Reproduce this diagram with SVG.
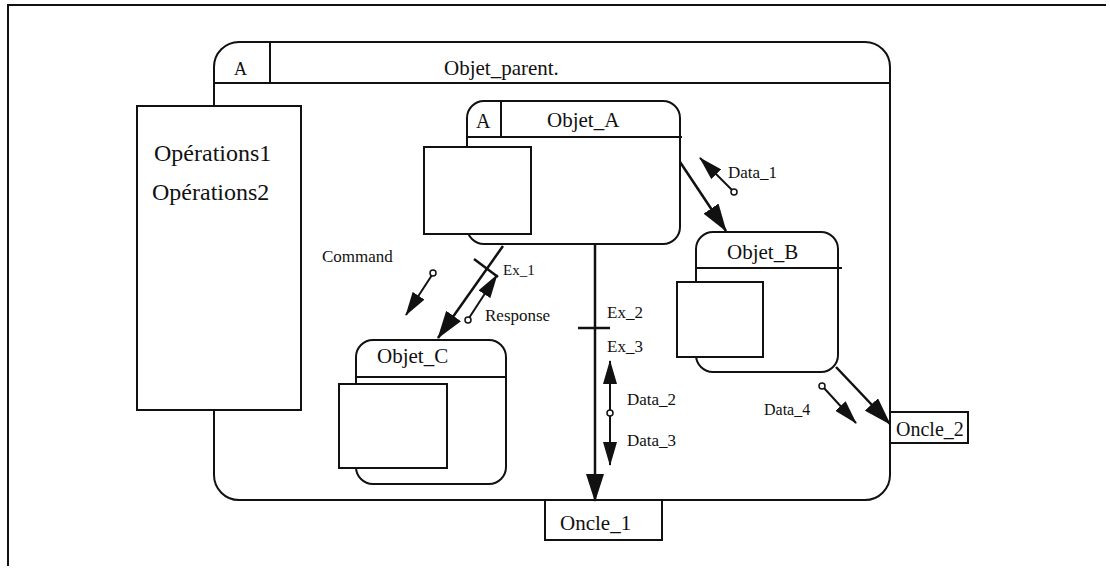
<svg xmlns="http://www.w3.org/2000/svg" width="1110" height="572" viewBox="0 0 1110 572">
<style>
.ln{stroke:#111;stroke-width:2;fill:none}
.box{stroke:#111;stroke-width:2;fill:#fff}
text{font-family:'Liberation Serif','DejaVu Serif','Times New Roman',serif;fill:#111}
.s{font-size:17px}
.t{font-size:21px}
.l{font-size:24px}
.con{stroke:#111;stroke-width:2.5;fill:none}
.dat{stroke:#111;stroke-width:2;fill:none}
.dot{stroke:#111;stroke-width:1.5;fill:#fff}
</style>
<defs>
<marker id="ah" viewBox="0 0 28 18" refX="27" refY="9" markerWidth="28" markerHeight="18" markerUnits="userSpaceOnUse" orient="auto">
<path d="M0,0 L28,9 L0,18 z" fill="#111"/>
</marker>
<marker id="ahs" viewBox="0 0 24 14" refX="23" refY="7" markerWidth="24" markerHeight="14" markerUnits="userSpaceOnUse" orient="auto">
<path d="M0,0 L24,7 L0,14 z" fill="#111"/>
</marker>
</defs>
<rect width="1110" height="572" fill="#fff"/>
<g id="frame">
<path d="M8,566 L8,5 L1106,5" class="ln" stroke-width="2.5"/>
</g>
<g id="objet_parent">
<rect x="214" y="42" width="676" height="458" rx="25" class="ln"/>
<line x1="214" y1="83" x2="890" y2="83" class="ln"/>
<line x1="270" y1="42" x2="270" y2="83" class="ln"/>
<text x="234" y="75" font-size="18">A</text>
<text x="444" y="75" font-size="21">Objet_parent.</text>
</g>
<g id="operations">
<rect x="137" y="106" width="164" height="304" class="box"/>
<text x="154" y="161" class="l">Opérations1</text>
<text x="152" y="200" class="l">Opérations2</text>
</g>
<g id="objet_a">
<rect x="467" y="101" width="213" height="143" rx="17" class="box"/>
<line x1="467" y1="137" x2="682" y2="137" class="ln"/>
<line x1="501" y1="101" x2="501" y2="137" class="ln"/>
<text x="476" y="128" font-size="20">A</text>
<text x="547" y="127" class="t">Objet_A</text>
<rect x="424" y="147" width="107" height="87" class="box"/>
</g>
<g id="objet_b">
<rect x="696" y="232" width="142" height="140" rx="17" class="box"/>
<line x1="696" y1="268" x2="842" y2="268" class="ln"/>
<text x="727" y="259" class="t">Objet_B</text>
<rect x="677" y="282" width="86" height="75" class="box"/>
</g>
<g id="objet_c">
<rect x="356" y="340" width="150" height="144" rx="17" class="box"/>
<line x1="356" y1="377" x2="507" y2="377" class="ln"/>
<text x="377" y="363" class="t">Objet_C</text>
<rect x="339" y="384" width="108" height="84" class="box"/>
</g>
<g id="oncle_1">
<rect x="545" y="500" width="117" height="40" class="box"/>
<text x="560" y="530" class="t">Oncle_1</text>
</g>
<g id="oncle_2">
<rect x="890" y="412" width="78" height="31" class="box"/>
<text x="896" y="436" font-size="20">Oncle_2</text>
</g>
<g id="connectors">
<line x1="680" y1="162" x2="726" y2="231" class="con" marker-end="url(#ah)"/>
<line x1="733" y1="191" x2="700" y2="158" class="dat" marker-end="url(#ahs)"/>
<circle cx="734" cy="192" r="3" class="dot"/>
<line x1="503" y1="246" x2="438" y2="338" class="con" marker-end="url(#ah)"/>
<line x1="474" y1="259" x2="498" y2="277" class="con"/>
<line x1="432" y1="275" x2="406" y2="315" class="dat" marker-end="url(#ahs)"/>
<circle cx="433" cy="273" r="3" class="dot"/>
<line x1="469" y1="318" x2="497" y2="275" class="dat" marker-end="url(#ahs)"/>
<circle cx="468" cy="320" r="3" class="dot"/>
<line x1="595" y1="244" x2="595" y2="501" class="con" marker-end="url(#ah)"/>
<line x1="578" y1="328" x2="610" y2="328" class="con"/>
<line x1="610" y1="410" x2="610" y2="361" class="dat" marker-end="url(#ahs)"/>
<line x1="610" y1="416" x2="610" y2="465" class="dat" marker-end="url(#ahs)"/>
<circle cx="610" cy="413" r="3" class="dot"/>
<line x1="836" y1="367" x2="890" y2="424" class="con" marker-end="url(#ah)"/>
<line x1="824" y1="388" x2="856" y2="423" class="dat" marker-end="url(#ahs)"/>
<circle cx="822" cy="386" r="3" class="dot"/>
<text x="728" y="178" class="s">Data_1</text>
<text x="322" y="262" class="s">Command</text>
<text x="503" y="275" font-size="15">Ex_1</text>
<text x="485" y="321" class="s">Response</text>
<text x="607" y="318" class="s">Ex_2</text>
<text x="607" y="352" class="s">Ex_3</text>
<text x="627" y="405" class="s">Data_2</text>
<text x="627" y="446" class="s">Data_3</text>
<text x="764" y="415" font-size="16">Data_4</text>
</g>
</svg>
